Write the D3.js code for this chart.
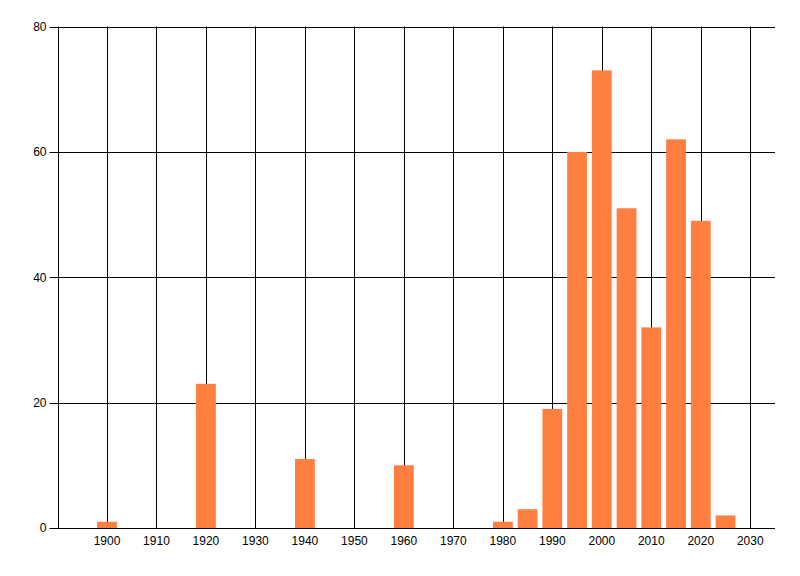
<!DOCTYPE html>
<html>
<head>
<meta charset="utf-8">
<script src="https://cdn.jsdelivr.net/npm/d3@7"></script>
<style>
  html, body { margin: 0; padding: 0; background: #fff; }
  svg { display: block; }
  text { font-family: "Liberation Sans", Arial, sans-serif; font-size: 12px; fill: #000; }
</style>
</head>
<body>
<svg id="chart" width="800" height="576"></svg>
<script>
const years = [1900, 1920, 1940, 1960, 1980, 1985, 1990, 1995, 2000, 2005, 2010, 2015, 2020, 2025];
const counts = [1, 23, 11, 10, 1, 3, 19, 60, 73, 51, 32, 62, 49, 2];
const xTicks = [1900, 1910, 1920, 1930, 1940, 1950, 1960, 1970, 1980, 1990, 2000, 2010, 2020, 2030];
const yTicks = [0, 20, 40, 60, 80];

const svg = d3.select("#chart");
const margin = { left: 57.5, right: 25, top: 26.5, bottom: 48 };
const W = 800, H = 576;

const x = d3.scaleLinear().domain([1890, 2035]).range([margin.left, W - margin.right]);
const y = d3.scaleLinear().domain([0, 80]).range([H - margin.bottom, margin.top]);

// vertical gridlines
svg.append("g").selectAll("line")
  .data(xTicks)
  .join("line")
  .attr("x1", d => Math.round(x(d)) + 0.5)
  .attr("x2", d => Math.round(x(d)) + 0.5)
  .attr("y1", y(80))
  .attr("y2", y(0))
  .attr("stroke", "#000")
  .attr("stroke-width", 1);

// horizontal gridlines
svg.append("g").selectAll("line")
  .data(yTicks)
  .join("line")
  .attr("x1", margin.left - 8)
  .attr("x2", W - margin.right)
  .attr("y1", d => Math.round(y(d)) + 0.5)
  .attr("y2", d => Math.round(y(d)) + 0.5)
  .attr("stroke", "#000")
  .attr("stroke-width", 1);

// left axis line
svg.append("line")
  .attr("x1", Math.round(margin.left) + 0.5).attr("x2", Math.round(margin.left) + 0.5)
  .attr("y1", y(80)).attr("y2", y(0))
  .attr("stroke", "#000");

// bars (drawn over the grid)
const barW = x(1904) - x(1900);
svg.append("g").selectAll("rect")
  .data(years.map((yr, i) => ({ yr, v: counts[i] })))
  .join("rect")
  .attr("x", d => x(d.yr) - barW / 2)
  .attr("width", barW)
  .attr("y", d => y(d.v))
  .attr("height", d => Math.round(y(0)) - y(d.v))
  .attr("fill", "#FF7F40");

// y labels
svg.append("g").selectAll("text")
  .data(yTicks)
  .join("text")
  .attr("x", margin.left - 11)
  .attr("y", d => y(d))
  .attr("dy", "0.36em")
  .attr("text-anchor", "end")
  .text(d => d);

// x labels
svg.append("g").selectAll("text")
  .data(xTicks)
  .join("text")
  .attr("x", d => x(d))
  .attr("y", y(0) + 17)
  .attr("text-anchor", "middle")
  .text(d => d);
</script>
</body>
</html>
